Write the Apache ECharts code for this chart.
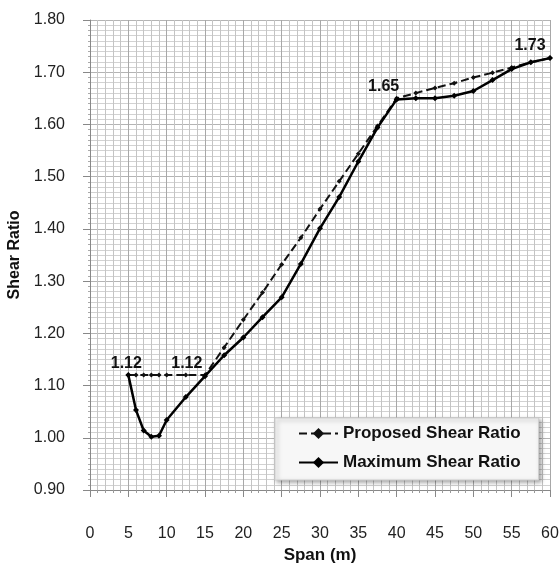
<!DOCTYPE html>
<html>
<head>
<meta charset="utf-8">
<script src="https://cdn.jsdelivr.net/npm/echarts@6/dist/echarts.min.js"></script>
<style>
html,body{margin:0;padding:0;background:#fff;overflow:hidden;width:560px;height:565px;}
#chart{position:absolute;left:0;top:0;width:560px;height:565px;}
</style>
</head>
<body>
<div id="chart"></div>
<script>
const spans = [5,6,7,8,9,10,12.5,15,17.5,20,22.5,25,27.5,30,32.5,35,37.5,40,42.5,45,47.5,50,52.5,55,57.5,60];
const proposed = [1.12,1.12,1.12,1.12,1.12,1.12,1.12,1.12,1.173,1.226,1.278,1.332,1.383,1.438,1.491,1.544,1.597,1.65,1.660,1.670,1.679,1.690,1.699,1.709,1.719,1.727];
const maximum = [1.12,1.053,1.014,1.002,1.004,1.034,1.078,1.118,1.158,1.192,1.231,1.269,1.333,1.401,1.461,1.529,1.594,1.648,1.650,1.650,1.655,1.664,1.685,1.706,1.719,1.727];
const labelled = {0: '1.12', 6: '1.12', 17: '1.65', 25: '1.73'};
const xTicks = {min: 0, max: 60, step: 5};
const yTicks = {min: 0.9, max: 1.8, step: 0.1};

const FONT = '"Liberation Sans", Arial, sans-serif';
const labelOffsets = {0: [-2, 3], 6: [1, 3], 17: [-13, 3], 25: [-20, 2]};

const propData = spans.map((x, i) => {
  const d = {value: [x, proposed[i]]};
  if (labelled[i] !== undefined) {
    d.label = {show: true, formatter: labelled[i], position: 'top', distance: 4,
      offset: labelOffsets[i], fontFamily: FONT, fontSize: 16, fontWeight: 'bold', color: '#111'};
  }
  return d;
});
const maxData = spans.map((x, i) => [x, maximum[i]]);

const chart = echarts.init(document.getElementById('chart'), null, {renderer: 'canvas', width: 560, height: 565});
chart.setOption({
  animation: false,
  backgroundColor: '#fff',
  textStyle: {fontFamily: FONT},
  grid: {left: 90, right: 10, top: 20, bottom: 75, containLabel: false, outerBoundsMode: 'none'},
  xAxis: {
    type: 'value', min: xTicks.min, max: xTicks.max, interval: xTicks.step,
    name: 'Span (m)', nameLocation: 'middle', nameGap: 57,
    nameTextStyle: {fontFamily: FONT, fontSize: 17, fontWeight: 'bold', color: '#111'},
    axisLine: {show: true, lineStyle: {color: '#888', width: 1}},
    axisTick: {show: true, length: 7, lineStyle: {color: '#888'}},
    minorTick: {show: true, splitNumber: 5, length: 3, lineStyle: {color: '#999'}},
    axisLabel: {margin: 36, fontFamily: FONT, fontSize: 16, color: '#222'},
    splitLine: {show: true, lineStyle: {color: '#a8a8a8', width: 1}},
    minorSplitLine: {show: true, lineStyle: {color: '#c4c4c4', width: 1}}
  },
  yAxis: {
    type: 'value', min: yTicks.min, max: yTicks.max, interval: yTicks.step,
    name: 'Shear Ratio', nameLocation: 'middle', nameGap: 63, nameRotate: 90,
    nameTextStyle: {fontFamily: FONT, fontSize: 16, fontWeight: 'bold', color: '#111'},
    axisLine: {show: true, lineStyle: {color: '#888', width: 1}},
    axisTick: {show: true, length: 7, lineStyle: {color: '#888'}},
    minorTick: {show: true, splitNumber: 10, length: 2, lineStyle: {color: '#aaa'}},
    axisLabel: {margin: 25, fontFamily: FONT, fontSize: 16, color: '#222',
      formatter: v => v.toFixed(2)},
    splitLine: {show: true, lineStyle: {color: '#b4b4b4', width: 1}},
    minorSplitLine: {show: true, lineStyle: {color: '#d2d2d2', width: 1}}
  },
  legend: {
    orient: 'vertical', left: 275, top: 418,
    padding: [7, 18, 9, 23], itemGap: 12, itemWidth: 39, itemHeight: 14,
    backgroundColor: '#f7f7f7', borderColor: '#cfcfcf', borderWidth: 1,
    shadowBlur: 4, shadowColor: 'rgba(0,0,0,0.35)', shadowOffsetX: 2, shadowOffsetY: 2,
    textStyle: {fontFamily: FONT, fontSize: 17, fontWeight: 'bold', color: '#111'},
    data: ['Proposed Shear Ratio', 'Maximum Shear Ratio']
  },
  series: [
    {
      name: 'Proposed Shear Ratio', type: 'line', data: propData,
      symbol: 'diamond', symbolSize: 5, showAllSymbol: true,
      lineStyle: {color: '#111', width: 2, type: [8, 4]},
      itemStyle: {color: '#111'},
      z: 3
    },
    {
      name: 'Maximum Shear Ratio', type: 'line', data: maxData,
      symbol: 'diamond', symbolSize: 6, showAllSymbol: true,
      lineStyle: {color: '#000', width: 2.5},
      itemStyle: {color: '#000'},
      z: 4
    }
  ]
});
</script>
</body>
</html>
